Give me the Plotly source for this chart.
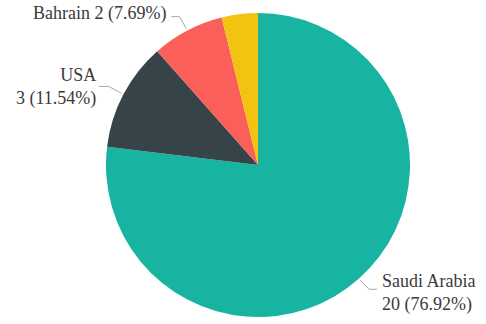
import math
import plotly.graph_objects as go

countries = ["Saudi Arabia", "USA", "Bahrain", "Other"]
counts = [20, 3, 2, 1]
colors = ["#17b4a2", "#364349", "#fa5f5a", "#f2c311"]
show_label = [True, True, True, False]

W, H = 486, 324
cx, cy, R = 258, 165, 152

total = sum(counts)
fracs = [c / total for c in counts]

fig = go.Figure(go.Pie(
    labels=countries, values=counts, sort=False, direction="clockwise", rotation=0,
    marker=dict(colors=colors, line=dict(width=0)), textinfo="none", hoverinfo="label+value+percent",
    domain=dict(x=[(cx - R) / W, (cx + R) / W], y=[(H - cy - R) / H, (H - cy + R) / H]),
    showlegend=False,
))

def px2paper(x, y):
    return x / W, 1 - y / H

styles = {
    "Saudi Arabia": dict(elbow=(9, 9), end=8, text=(380, 293), xanchor="left", align="left", br=True),
    "USA": dict(elbow=(-13, -7), end=-10, text=(98, 87), xanchor="right", align="right", br=True),
    "Bahrain": dict(elbow=(-7, -12), end=-8, text=(168, 14), xanchor="right", align="right", br=False),
}

shapes = []
annotations = []
cum = 0
for name, c, f, show in zip(countries, counts, fracs, show_label):
    mid = (cum + f / 2) * 2 * math.pi
    cum += f
    if not show:
        continue
    s = styles[name]
    ex = cx + (R + 2) * math.sin(mid)
    ey = cy - (R + 2) * math.cos(mid)
    bx, by = ex + s["elbow"][0], ey + s["elbow"][1]
    tx2, ty2 = bx + s["end"], by
    for (x0, y0, x1, y1) in [(ex, ey, bx, by), (bx, by, tx2, ty2)]:
        p0 = px2paper(x0, y0)
        p1 = px2paper(x1, y1)
        shapes.append(dict(type="line", xref="paper", yref="paper", x0=p0[0], y0=p0[1], x1=p1[0], y1=p1[1],
                           line=dict(color="#a8a8a8", width=1)))
    sep = "<br>" if s["br"] else " "
    txt = f"{name}{sep}{c} ({f*100:.2f}%)"
    tp = px2paper(*s["text"])
    annotations.append(dict(x=tp[0], y=tp[1], xref="paper", yref="paper", text=txt, showarrow=False,
                            xanchor=s["xanchor"], yanchor="middle", align=s["align"],
                            font=dict(family="Liberation Serif", size=18, color="#3a3a3a")))

fig.update_layout(
    width=W, height=H, margin=dict(l=0, r=0, t=0, b=0),
    paper_bgcolor="white", plot_bgcolor="white",
    shapes=shapes, annotations=annotations,
)
fig.write_html("out.html", config={"displayModeBar": False},
               post_script="document.body.style.margin='0';document.body.style.overflow='hidden';")
